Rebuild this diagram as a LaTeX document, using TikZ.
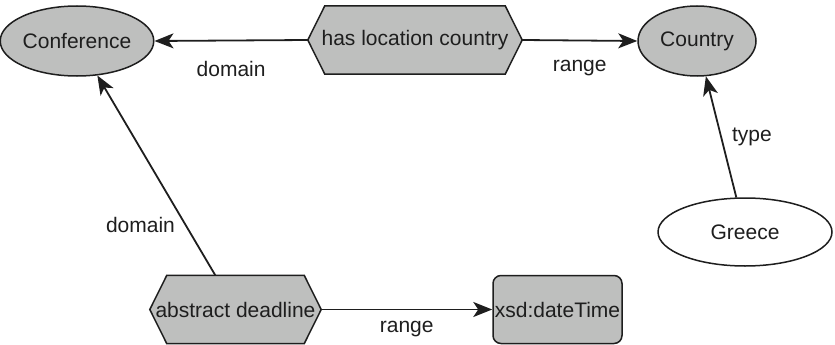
\documentclass[tikz,border=0pt]{standalone}
\usepackage{fontspec}
\setmainfont{Liberation Sans}
\usetikzlibrary{shapes.geometric,arrows.meta,calc,backgrounds}
\definecolor{nodegray}{RGB}{190,191,190}
\definecolor{inkc}{RGB}{30,30,30}
\newcommand\drawhexshape[1]{\draw[line width=1.5pt, draw=inkc, fill=nodegray] (#1.west) -- ($(#1.north west)+(17,0)$) -- ($(#1.north east)+(-17,0)$) -- (#1.east) -- ($(#1.south east)+(-17,0)$) -- ($(#1.south west)+(17,0)$) -- cycle;}
\begin{document}
\begin{tikzpicture}[x=1pt,y=-1pt,
  every node/.style={font=\fontsize{21}{24}\selectfont, text=inkc},
  cls/.style={ellipse, draw=inkc, line width=1.5pt, fill=nodegray, inner sep=0pt},
  inst/.style={ellipse, draw=inkc, line width=1.5pt, fill=white, inner sep=0pt},
  prop/.style={rectangle, inner sep=0pt},
  lit/.style={rectangle, rounded corners=8pt, draw=inkc, line width=1.5pt, fill=nodegray, inner sep=0pt},
  conn/.style={-{Stealth[length=19pt,width=15pt,inset=5pt]}, line width=1.8pt, draw=inkc},
  lbl/.style={inner sep=0pt}]
\useasboundingbox (0,0) rectangle (835,345);
\node[cls, minimum width=140pt, minimum height=70pt] (conf) at (77,41) {Conference};
\node[cls, minimum width=118pt, minimum height=70pt] (country) at (697,41) {Country};
\node[inst, minimum width=174pt, minimum height=68pt] (greece) at (745,232) {Greece};
\node[prop, minimum width=214pt, minimum height=68pt] (hlc) at (415,40) {has location country};
\node[prop, minimum width=171pt, minimum height=68pt] (ad) at (235.5,309.5) {abstract deadline};
\node[lit, minimum width=129pt, minimum height=68pt] (xsd) at (557.5,309.5) {xsd:dateTime};
\begin{scope}[on background layer]
  \drawhexshape{hlc}
  \drawhexshape{ad}
\end{scope}
\draw[conn] (hlc.west) -- node[lbl, midway, yshift=-28pt]{domain} (conf.east);
\draw[conn] (hlc.east) -- node[lbl, midway, yshift=-28pt]{range} (country.west);
\draw[conn] (ad.east) -- node[lbl, midway, yshift=-20pt]{range} (xsd.west);
\draw[conn] (ad) -- node[lbl, pos=0.25, left=10pt]{domain} (conf);
\draw[conn] (greece) -- node[lbl, pos=0.5, right=10pt]{type} (country);
\end{tikzpicture}
\end{document}
